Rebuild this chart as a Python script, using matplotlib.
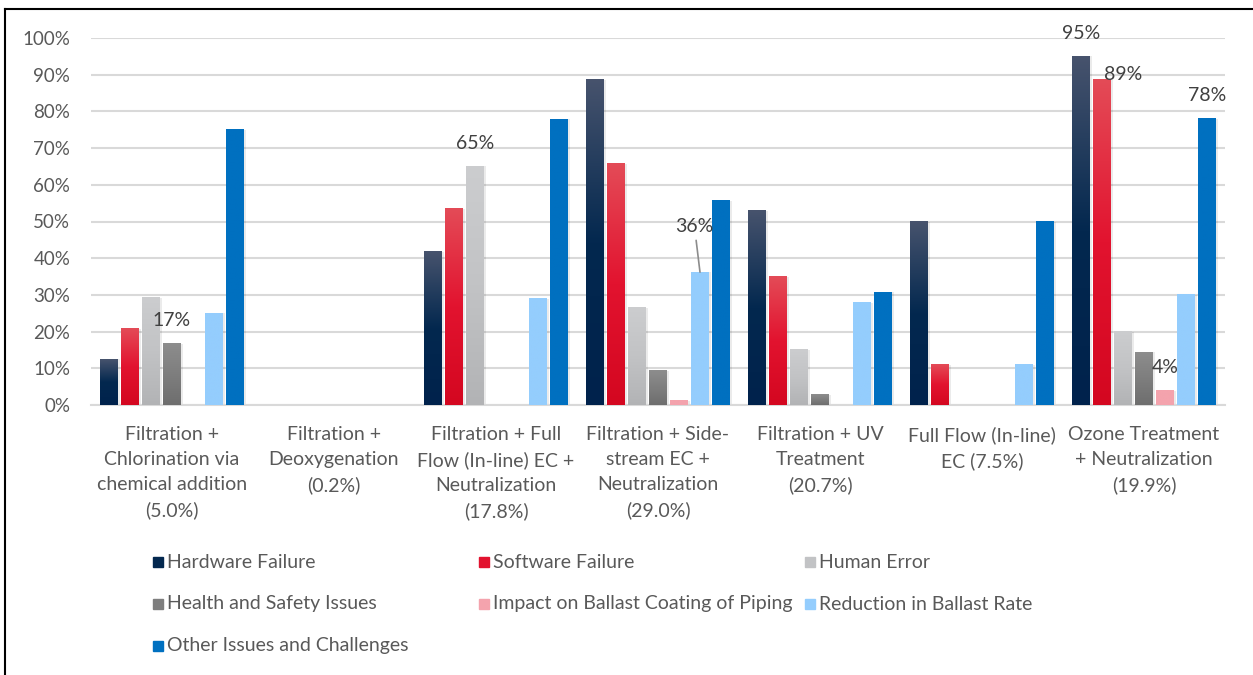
import numpy as np
import matplotlib
matplotlib.use("Agg")
import matplotlib.pyplot as plt
from matplotlib.colors import LinearSegmentedColormap
from matplotlib.lines import Line2D
from matplotlib.patches import Rectangle

plt.rcParams["font.family"] = ["Lato", "DejaVu Sans"]

categories = [
    "Filtration +\nChlorination via\nchemical addition\n(5.0%)",
    "Filtration +\nDeoxygenation\n(0.2%)",
    "Filtration + Full\nFlow (In-line) EC +\nNeutralization\n(17.8%)",
    "Filtration + Side-\nstream EC +\nNeutralization\n(29.0%)",
    "Filtration + UV\nTreatment\n(20.7%)",
    "Full Flow (In-line)\nEC (7.5%)",
    "Ozone Treatment\n+ Neutralization\n(19.9%)",
]
series = [
    "Hardware Failure", "Software Failure", "Human Error",
    "Health and Safety Issues", "Impact on Ballast Coating of Piping",
    "Reduction in Ballast Rate", "Other Issues and Challenges",
]
hardware = [0.125, 0.0, 0.417, 0.886, 0.529, 0.50, 0.95]
software = [0.208, 0.0, 0.535, 0.657, 0.35, 0.11, 0.886]
human = [0.292, 0.0, 0.651, 0.265, 0.15, 0.0, 0.20]
health = [0.167, 0.0, 0.0, 0.093, 0.028, 0.0, 0.144]
impact = [0.0, 0.0, 0.0, 0.012, 0.0, 0.0, 0.039]
reduction = [0.25, 0.0, 0.289, 0.362, 0.279, 0.11, 0.30]
other = [0.75, 0.0, 0.778, 0.556, 0.307, 0.50, 0.78]
values = [hardware, software, human, health, impact, reduction, other]

# (series index, category index) of the bars that carry a data label
labelled = [(3, 0), (2, 2), (5, 3), (0, 6), (1, 6), (6, 6), (4, 6)]

# gradient stops bottom -> top (Excel-style fills)
fills = [
    ["#00224c", "#03284f", "#47536d"],
    ["#d40720", "#e2132f", "#e44b57"],
    ["#b2b3b5", "#c2c3c5", "#cccdcf"],
    ["#6e6e6e", "#7e7e7e", "#8d8d8d"],
    ["#f4a3ad", "#f4a3ad", "#f4a3ad"],
    ["#94cdfd", "#94cdfd", "#94cdfd"],
    ["#0070c0", "#0070c0", "#0070c0"],
]

W, H = 1253, 675
fig = plt.figure(figsize=(W / 100, H / 100), dpi=100)
ax = fig.add_axes([91 / W, 270 / H, (1225 - 91) / W, 367 / H])

n = len(series)
pitch = 0.1296
width = 0.111
x = np.arange(len(categories))
grad = np.linspace(0, 1, 256).reshape(-1, 1)
bars = []
for i, (vals, stops) in enumerate(zip(values, fills)):
    pos = x + (i - (n - 1) / 2) * pitch
    bc = ax.bar(pos, vals, width, color="none", zorder=3)
    cmap = LinearSegmentedColormap.from_list(f"s{i}", stops)
    for b in bc:
        h = b.get_height()
        if h <= 0:
            continue
        x0 = b.get_x()
        # soft shadow to the right
        ax.add_patch(Rectangle((x0 + 0.012, 0), width, h, color="#000000",
                               alpha=0.08, lw=0, zorder=2))
        ax.imshow(grad, extent=[x0, x0 + width, 0, h], origin="lower",
                  aspect="auto", cmap=cmap, zorder=3, interpolation="bilinear")
    bars.append(bc)

ax.set_xlim(-0.5, len(categories) - 0.5)
ax.set_ylim(0, 1.0)
ax.set_yticks(np.arange(0, 1.01, 0.1))
ax.set_yticklabels([f"{int(round(v * 100))}%" for v in np.arange(0, 1.01, 0.1)])
ax.set_xticks(x)
ax.set_xticklabels(categories, linespacing=1.56)
ax.tick_params(axis="y", length=0, pad=15, labelsize=13.5, labelcolor="#595959")
ax.tick_params(axis="x", length=0, pad=15, labelsize=14, labelcolor="#595959")
ax.grid(axis="y", color="#d9d9d9", lw=1.5, zorder=0)
ax.set_axisbelow(True)
for s in ["top", "right", "left"]:
    ax.spines[s].set_visible(False)
ax.spines["bottom"].set_color("#d9d9d9")
ax.spines["bottom"].set_linewidth(1.5)

offsets = {(5, 3): (-4, 33), (1, 6): (15, 4)}
for si, ci in labelled:
    v = values[si][ci]
    bx = x[ci] + (si - (n - 1) / 2) * pitch
    off = offsets.get((si, ci), (0, 16.5))
    arrow = dict(arrowstyle="-", color="#8c8c8c", lw=1.2, shrinkA=2, shrinkB=0) \
        if (si, ci) == (5, 3) else None
    ax.annotate(f"{v:.0%}", xy=(bx, v), xytext=off, textcoords="offset points",
                ha="center", va="center", fontsize=14, color="#404040",
                arrowprops=arrow, zorder=5, annotation_clip=False)

# legend, three equal-width columns like Excel
for i, name in enumerate(series):
    col, row = i % 3, i // 3
    px = 158 + col * 326
    py = 562 + row * 42
    fig.patches.append(Rectangle(((px - 5) / W, 1 - (py + 5) / H), 10 / W, 10 / H,
                                 transform=fig.transFigure, color=fills[i][1]))
    fig.text((px + 9) / W, 1 - py / H, name, ha="left", va="center",
             fontsize=14, color="#595959")

# frame lines at top and left
fig.lines.append(Line2D([5 / W, 1], [1 - 9 / H, 1 - 9 / H], transform=fig.transFigure,
                        color="black", lw=1.5))
fig.lines.append(Line2D([5 / W, 5 / W], [0, 1 - 9 / H], transform=fig.transFigure,
                        color="black", lw=1.5))

fig.savefig("out.png", dpi=100)
